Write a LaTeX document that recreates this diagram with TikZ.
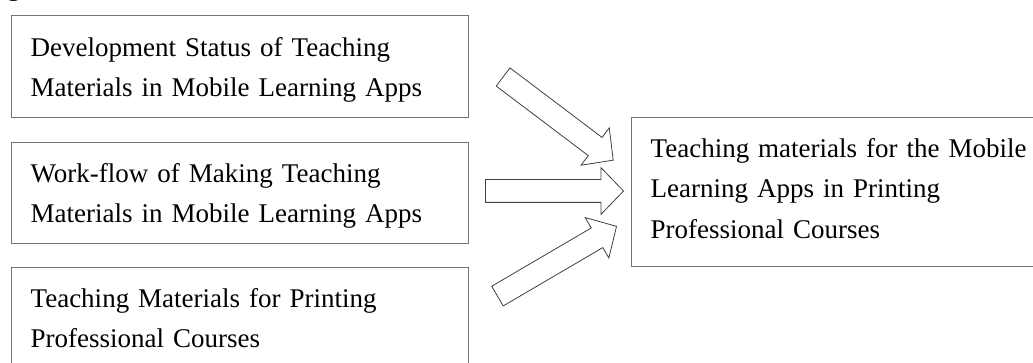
\documentclass[tikz,border=0pt]{standalone}
\usepackage{fontspec}
\setmainfont{Liberation Serif}
\usetikzlibrary{shapes.arrows}

\tikzset{
  textbox/.style={draw=black!55, line width=1.3pt, rectangle, anchor=north west,
    align=left, inner xsep=19pt, inner ysep=0pt, text width=430pt,
    font=\fontsize{27}{40.5}\selectfont},
  bigarrow/.style={shape=single arrow, draw=black!75, line width=0.8pt,
    inner xsep=0pt, inner ysep=11pt, minimum height=138pt,
    single arrow head extend=12pt, single arrow tip angle=92,
    single arrow head indent=0pt}
}

\begin{document}
\begin{tikzpicture}[x=1pt, y=-1pt]
  \useasboundingbox (0,0) rectangle (1033,363);

  % cut off caption
  \node[anchor=base west, inner sep=0pt, font=\fontsize{27}{40.5}\selectfont\bfseries] (cap) at (7,-4) {g};

  \node[textbox, minimum width=457pt, text width=419pt, text height=40.5pt, text depth=61.5pt] (dev) at (11,15)
    {Development Status of Teaching\\Materials in Mobile Learning Apps};
  \node[textbox, minimum width=457pt, text width=419pt, text height=39.5pt, text depth=61.5pt] (flow) at (11,142)
    {Work-flow of Making Teaching\\Materials in Mobile Learning Apps};
  \node[textbox, minimum width=457pt, text width=419pt, text height=39.7pt, text depth=62pt] (print) at (11,267)
    {Teaching Materials for Printing\\Professional Courses};
  \node[textbox, minimum width=440pt, text width=402pt, text height=39.5pt, text depth=109.5pt] (goal) at (631,117)
    {Teaching materials for the Mobile\\Learning Apps in Printing\\Professional Courses};

  % arrows
  \coordinate (t1) at (498.5,73.5);
  \coordinate (h1) at (609,157);
  \coordinate (t2) at (480,191);
  \coordinate (h2) at (618,191);
  \coordinate (t3) at (492.5,299);
  \coordinate (h3) at (612,229);
  \path (t1) -- (h1) node[bigarrow, midway, sloped] (a1) {};
  \path (t2) -- (h2) node[bigarrow, midway, sloped] (a2) {};
  \path (t3) -- (h3) node[bigarrow, midway, sloped] (a3) {};
\end{tikzpicture}
\end{document}
